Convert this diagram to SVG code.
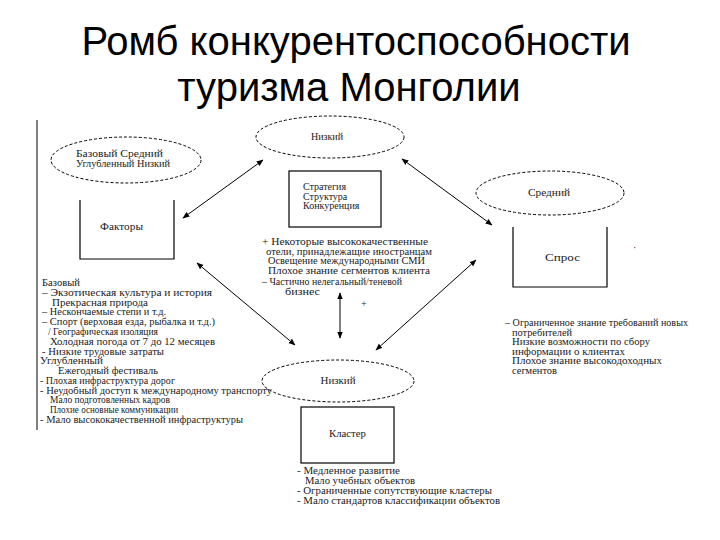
<svg xmlns="http://www.w3.org/2000/svg" width="720" height="540" viewBox="0 0 720 540">
<defs>
<style>
.title{font-family:"Liberation Sans",Arial,sans-serif;font-size:40px;fill:#000;text-anchor:middle}
.t{font-family:"Liberation Serif","DejaVu Serif","Times New Roman",serif;font-size:10px;fill:#222}
.c{text-anchor:middle}
.ell{fill:none;stroke:#000;stroke-width:1;stroke-dasharray:3 2}
.box{fill:none;stroke:#000;stroke-width:1.2}
.con{stroke:#000;stroke-width:1;fill:none;marker-start:url(#ah);marker-end:url(#ah)}
</style>
<marker id="ah" viewBox="0 0 10 10" refX="9" refY="5" markerWidth="7" markerHeight="7" orient="auto-start-reverse" markerUnits="userSpaceOnUse">
<path d="M0,1 L10,5 L0,9 z" fill="#000"/>
</marker>
</defs>
<rect width="720" height="540" fill="#fff"/>
<g id="title">
<text class="title" x="356" y="55">Ромб конкурентоспособности</text>
<text class="title" x="349" y="101">туризма Монголии</text>
</g>
<line x1="37" y1="120" x2="37" y2="430" stroke="#000" stroke-width="1"/>
<g id="legend">
<ellipse class="ell" cx="126" cy="160" rx="75" ry="23"/>
<text class="t" x="76" y="157" textLength="87" lengthAdjust="spacingAndGlyphs">Базовый Средний</text>
<text class="t" x="76" y="167" textLength="94" lengthAdjust="spacingAndGlyphs">Углубленный Низкий</text>
</g>
<g id="factors">
<polyline class="box" points="80,200 80,259 174,259 174,200"/>
<text class="t" x="100" y="230" textLength="43" lengthAdjust="spacingAndGlyphs">Факторы</text>
</g>
<g id="low-top">
<ellipse class="ell" cx="330" cy="137" rx="74" ry="21"/>
<text class="t c" x="327" y="140">Низкий</text>
</g>
<g id="strategy">
<rect class="box" x="289" y="171" width="92" height="56"/>
<text class="t" x="303" y="190" font-size="9">Стратегия</text>
<text class="t" x="303" y="199.5" font-size="9">Структура</text>
<text class="t" x="303" y="209" font-size="9">Конкуренция</text>
</g>
<g id="mid">
<ellipse class="ell" cx="550" cy="193" rx="74" ry="22"/>
<text class="t c" x="549" y="196" textLength="42" lengthAdjust="spacingAndGlyphs">Средний</text>
</g>
<g id="demand">
<polyline class="box" points="513,227 513,287 607,287 607,227"/>
<text class="t" x="545" y="261" textLength="35" lengthAdjust="spacingAndGlyphs">Спрос</text>
</g>
<g id="low-bottom">
<ellipse class="ell" cx="338" cy="381" rx="76" ry="21"/>
<text class="t c" x="338" y="384" textLength="35" lengthAdjust="spacingAndGlyphs">Низкий</text>
</g>
<g id="cluster">
<rect class="box" x="301" y="407" width="93" height="56"/>
<text class="t" x="329" y="437" textLength="37" lengthAdjust="spacingAndGlyphs">Кластер</text>
</g>
<g id="connectors">
<line class="con" x1="183" y1="218" x2="263" y2="160"/>
<line class="con" x1="197" y1="263" x2="295" y2="345"/>
<line class="con" x1="402" y1="159" x2="492" y2="225"/>
<line class="con" x1="476" y1="260" x2="376" y2="350"/>
<line class="con" x1="340" y1="293" x2="340" y2="338"/>
</g>
<g id="strategy-notes">
<text class="t" x="262" y="245" textLength="166" lengthAdjust="spacingAndGlyphs">+ Некоторые высококачественные</text>
<text class="t" x="266" y="254.5" textLength="166" lengthAdjust="spacingAndGlyphs">отели, принадлежащие иностранцам</text>
<text class="t" x="268" y="264" textLength="157" lengthAdjust="spacingAndGlyphs">Освещение международными СМИ</text>
<text class="t" x="268" y="274" textLength="162" lengthAdjust="spacingAndGlyphs">Плохое знание сегментов клиента</text>
<text class="t" x="262" y="285" textLength="140" lengthAdjust="spacingAndGlyphs">– Частично нелегальный/теневой</text>
<text class="t" x="285" y="295" textLength="35" lengthAdjust="spacingAndGlyphs">бизнес</text>
<text class="t" x="361" y="307" font-size="7" fill="#999">+</text>
</g>
<g id="factor-notes">
<text class="t" x="42" y="286" textLength="38" lengthAdjust="spacingAndGlyphs">Базовый</text>
<text class="t" x="42" y="296" textLength="170" lengthAdjust="spacingAndGlyphs">– Экзотическая культура и история</text>
<text class="t" x="52" y="305.5" textLength="96" lengthAdjust="spacingAndGlyphs">Прекрасная природа</text>
<text class="t" x="42" y="315" textLength="124" lengthAdjust="spacingAndGlyphs">– Нескончаемые степи и т.д.</text>
<text class="t" x="42" y="325" textLength="173" lengthAdjust="spacingAndGlyphs">– Спорт (верховая езда, рыбалка и т.д.)</text>
<text class="t" x="48" y="335" textLength="110" lengthAdjust="spacingAndGlyphs">/  Географическая изоляция</text>
<text class="t" x="50" y="344.5" textLength="165" lengthAdjust="spacingAndGlyphs">Холодная погода от 7 до 12 месяцев</text>
<text class="t" x="42" y="354.5" textLength="122" lengthAdjust="spacingAndGlyphs">- Низкие трудовые затраты</text>
<text class="t" x="40" y="364" textLength="63" lengthAdjust="spacingAndGlyphs">Углубленный</text>
<text class="t" x="58" y="374" textLength="100" lengthAdjust="spacingAndGlyphs">Ежегодный фестиваль</text>
<text class="t" x="40" y="384" textLength="135" lengthAdjust="spacingAndGlyphs">- Плохая инфраструктура дорог</text>
<text class="t" x="40" y="393.5" textLength="232" lengthAdjust="spacingAndGlyphs">- Неудобный доступ к международному транспорту</text>
<text class="t" x="50" y="403" textLength="120" lengthAdjust="spacingAndGlyphs">Мало подготовленных кадров</text>
<text class="t" x="50" y="413" textLength="128" lengthAdjust="spacingAndGlyphs">Плохие основные коммуникации</text>
<text class="t" x="40" y="423" textLength="203" lengthAdjust="spacingAndGlyphs">- Мало высококачественной инфраструктуры</text>
</g>
<g id="demand-notes">
<text class="t" x="505" y="326" textLength="183" lengthAdjust="spacingAndGlyphs">– Ограниченное знание требований новых</text>
<text class="t" x="512" y="335.5" textLength="60" lengthAdjust="spacingAndGlyphs">потребителей</text>
<text class="t" x="512" y="345" textLength="138" lengthAdjust="spacingAndGlyphs">Низкие возможности по сбору</text>
<text class="t" x="512" y="354.5" textLength="113" lengthAdjust="spacingAndGlyphs">информации о клиентах</text>
<text class="t" x="512" y="364" textLength="150" lengthAdjust="spacingAndGlyphs">Плохое знание высокодоходных</text>
<text class="t" x="512" y="373.5" textLength="45" lengthAdjust="spacingAndGlyphs">сегментов</text>
<text class="t" x="633" y="251" font-size="7" fill="#999">·</text>
</g>
<g id="cluster-notes">
<text class="t" x="297" y="474" textLength="103" lengthAdjust="spacingAndGlyphs">- Медленное развитие</text>
<text class="t" x="305" y="484" textLength="110" lengthAdjust="spacingAndGlyphs">Мало учебных объектов</text>
<text class="t" x="297" y="494" textLength="195" lengthAdjust="spacingAndGlyphs">- Ограниченные сопутствующие кластеры</text>
<text class="t" x="297" y="504" textLength="203" lengthAdjust="spacingAndGlyphs">- Мало стандартов классификации объектов</text>
</g>
</svg>
